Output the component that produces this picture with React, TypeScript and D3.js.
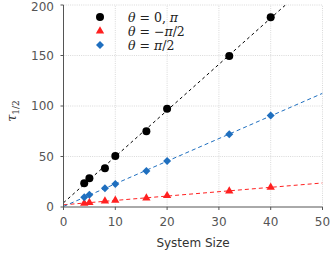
import React from "react";
import * as d3 from "d3";

const sizes = [4, 5, 8, 10, 16, 20, 32, 40];
const zeroPi = [23.5, 28.4, 38.3, 50.5, 75, 97.3, 149.5, 187.8];
const minusHalfPi = [3.6, 4.3, 5.9, 6.6, 8.9, 11.2, 15.8, 19.5];
const halfPi = [9.6, 12.2, 18.5, 22.8, 35.6, 45.5, 72, 90.5];
const xTicks = [0, 10, 20, 30, 40, 50];
const yTicks = [0, 50, 100, 150, 200];

const W = 332, H = 253;
const x = d3.scaleLinear().domain([0, 50]).range([63.5, 322.5]);
const y = d3.scaleLinear().domain([0, 200]).range([207, 5]);

function fit(vals: number[]) {
  const mx = d3.mean(sizes)!;
  const my = d3.mean(vals)!;
  let num = 0, den = 0;
  sizes.forEach((s, i) => { num += (s - mx) * (vals[i] - my); den += (s - mx) ** 2; });
  const b = num / den;
  return { b, a: my - b * mx };
}

const series = [
  { parts: [" = 0, ", "π", ""], vals: zeroPi, color: "#000000", marker: "circle", dash: "3,3" },
  { parts: [" = −", "π", "/2"], vals: minusHalfPi, color: "#ff2020", marker: "triangle", dash: "4,3" },
  { parts: [" = ", "π", "/2"], vals: halfPi, color: "#1f6fbf", marker: "diamond", dash: "4,3" },
];

function Marker({ kind, cx, cy, color }: { kind: string; cx: number; cy: number; color: string }) {
  if (kind === "circle") return <circle cx={cx} cy={cy} r={4} fill={color} />;
  if (kind === "diamond") {
    const r = 4;
    return <path d={`M${cx},${cy - r}L${cx + r},${cy}L${cx},${cy + r}L${cx - r},${cy}Z`} fill={color} />;
  }
  const p = d3.symbol().type(d3.symbolTriangle).size(30)()!;
  return <path d={p} transform={`translate(${cx},${cy})`} fill={color} />;
}

export default function App() {
  const tickFont = "'DejaVu Sans', sans-serif";
  return (
    <svg width={W} height={H} style={{ position: "absolute", left: 0, top: 0 }}>
      <defs>
        <clipPath id="plot">
          <rect x={x(0)} y={y(200)} width={x(50) - x(0)} height={y(0) - y(200)} />
        </clipPath>
      </defs>
      {xTicks.slice(1).map((t) => (
        <line key={"gx" + t} x1={x(t)} x2={x(t)} y1={y(0)} y2={y(200)} stroke="#cfcfcf" strokeWidth={0.8} strokeDasharray="1,1.2" />
      ))}
      {yTicks.slice(1).map((t) => (
        <line key={"gy" + t} x1={x(0)} x2={x(50)} y1={y(t)} y2={y(t)} stroke="#cfcfcf" strokeWidth={0.8} strokeDasharray="1,1.2" />
      ))}
      <g clipPath="url(#plot)">
        {series.map((s, k) => {
          const f = fit(s.vals);
          return (
            <line key={"f" + k} x1={x(0)} y1={y(f.a)} x2={x(50)} y2={y(f.a + f.b * 50)} stroke={s.color} strokeWidth={1} strokeDasharray={s.dash} />
          );
        })}
      </g>
      {series.map((s, k) =>
        s.vals.map((v, i) => <Marker key={k + "-" + i} kind={s.marker} cx={x(sizes[i])} cy={y(v)} color={s.color} />)
      )}
      <line x1={x(0)} x2={x(0)} y1={y(0) + 0.5} y2={y(200)} stroke="#555" strokeWidth={1} />
      <line x1={x(0)} x2={x(50)} y1={y(0)} y2={y(0)} stroke="#555" strokeWidth={1} />
      {yTicks.map((t) => (
        <g key={"yt" + t}>
          <line x1={x(0) - 3} x2={x(0)} y1={y(t)} y2={y(t)} stroke="#555" />
          <text x={54} y={Math.max(y(t), 6.5)} dy="0.36em" textAnchor="end" fontFamily={tickFont} fontSize={12} fill="#555">{t}</text>
        </g>
      ))}
      {xTicks.map((t) => (
        <g key={"xt" + t}>
          <line x1={x(t)} x2={x(t)} y1={y(0)} y2={y(0) + 3} stroke="#555" />
          <text x={x(t)} y={226} textAnchor="middle" fontFamily={tickFont} fontSize={12} fill="#555">{t}</text>
        </g>
      ))}
      <text x={x(25)} y={247} textAnchor="middle" fontFamily={tickFont} fontSize={12} fill="#333">System Size</text>
      <text transform={`translate(16,111) rotate(-90)`} textAnchor="middle" fontFamily="'DejaVu Serif', serif" fill="#333">
        <tspan fontStyle="italic" fontSize={13}>τ</tspan>
        <tspan fontSize={9} dy={3}>1/2</tspan>
      </text>
      {series.map((s, i) => (
        <g key={"lg" + i}>
          <Marker kind={s.marker} cx={100} cy={17 + i * 14} color={s.color} />
          <text x={128} y={21.5 + i * 14} fontFamily="'DejaVu Serif', serif" fontSize={12.5} fill="#222">
            <tspan fontStyle="italic">θ</tspan>
            <tspan>{s.parts[0]}</tspan>
            <tspan fontStyle="italic">{s.parts[1]}</tspan>
            <tspan>{s.parts[2]}</tspan>
          </text>
        </g>
      ))}
    </svg>
  );
}
